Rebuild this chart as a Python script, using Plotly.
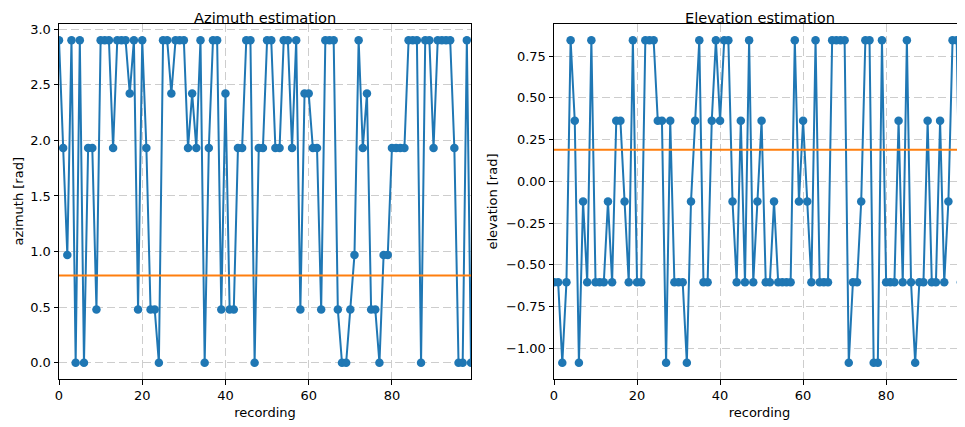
import plotly.graph_objects as go

# ---- data ----
recording = list(range(100))

azimuth = [
    2.90, 1.93, 0.97, 2.90, 0.00, 2.90, 0.00, 1.93, 1.93, 0.48,
    2.90, 2.90, 2.90, 1.93, 2.90, 2.90, 2.90, 2.42, 2.90, 0.48,
    2.90, 1.93, 0.48, 0.48, 0.00, 2.90, 2.90, 2.42, 2.90, 2.90,
    2.90, 1.93, 2.42, 1.93, 2.90, 0.00, 1.93, 2.90, 2.90, 0.48,
    2.42, 0.48, 0.48, 1.93, 1.93, 2.90, 2.90, 0.00, 1.93, 1.93,
    2.90, 2.90, 1.93, 1.93, 2.90, 2.90, 1.93, 2.90, 0.48, 2.42,
    2.42, 1.93, 1.93, 0.48, 2.90, 2.90, 2.90, 0.48, 0.00, 0.00,
    0.48, 0.97, 2.90, 1.93, 2.42, 0.48, 0.48, 0.00, 0.97, 0.97,
    1.93, 1.93, 1.93, 1.93, 2.90, 2.90, 2.90, 0.00, 2.90, 2.90,
    1.93, 2.90, 2.90, 2.90, 2.90, 1.93, 0.00, 0.00, 2.90, 0.00,
]
azimuth_true = 0.785

T, A, B, C, D = 0.846, 0.363, -0.121, -0.604, -1.087
elevation = [
    C, C, D, C, T, A, D, B, C, T,
    C, C, C, B, C, A, A, B, C, T,
    C, C, T, T, T, A, A, D, A, C,
    C, C, D, B, A, T, C, C, A, T,
    A, T, T, B, C, A, C, T, C, B,
    A, C, C, B, C, C, C, C, T, B,
    A, B, C, T, C, C, C, T, T, T,
    T, D, C, C, B, T, T, D, D, T,
    C, C, C, A, C, T, C, D, C, C,
    A, C, C, A, C, B, T, T, C, D,
]
elevation_true = 0.19

az_ticks = [0.0, 0.5, 1.0, 1.5, 2.0, 2.5, 3.0]
el_ticks = [-1.00, -0.75, -0.50, -0.25, 0.00, 0.25, 0.50, 0.75]
x_ticks = [0, 20, 40, 60, 80]

BLUE = "#1f77b4"
ORANGE = "#ff7f0e"
FONT = "DejaVu Sans"
TICK_FS = 13
TITLE_FS = 14.6


def pad_range(vals, frac=0.05):
    lo, hi = min(vals), max(vals)
    d = (hi - lo) * frac
    return [lo - d, hi + d]


fig = go.Figure()

fig.add_trace(go.Scatter(x=recording, y=azimuth, mode="lines+markers",
                         line=dict(color=BLUE, width=2),
                         marker=dict(color=BLUE, size=8.5),
                         xaxis="x", yaxis="y", showlegend=False))
fig.add_trace(go.Scatter(x=recording, y=[azimuth_true] * len(recording), mode="lines",
                         line=dict(color=ORANGE, width=2),
                         xaxis="x", yaxis="y", showlegend=False))
fig.add_trace(go.Scatter(x=recording, y=elevation, mode="lines+markers",
                         line=dict(color=BLUE, width=2),
                         marker=dict(color=BLUE, size=8.5),
                         xaxis="x2", yaxis="y2", showlegend=False))
fig.add_trace(go.Scatter(x=recording, y=[elevation_true] * len(recording), mode="lines",
                         line=dict(color=ORANGE, width=2),
                         xaxis="x2", yaxis="y2", showlegend=False))

# page has an 8px body margin, so the figure is laid out 8px smaller
W, H = 957, 419
dom1 = [51 / W, 463 / W]
dom2 = [546 / W, 1.0]

grid = dict(showgrid=True, gridcolor="#cdcdcd", griddash="8px,4px", gridwidth=1.2)
frame = dict(showline=True, linecolor="black", linewidth=1, mirror=True,
             ticks="outside", ticklen=4.5, tickwidth=1, tickcolor="black",
             zeroline=False, automargin=False, tickfont=dict(size=TICK_FS, color="black"))

common_x = dict(range=[0, len(recording) - 1], tickvals=x_ticks,
                title=dict(text="recording", font=dict(size=TICK_FS, color="black"), standoff=5),
                **grid, **frame)

TOP = 16

title_font = dict(size=TITLE_FS, color="black", family=FONT)
label_font = dict(size=TICK_FS, color="black", family=FONT)

fig.update_layout(
    width=W, height=H,
    margin=dict(l=0, r=0, t=TOP, b=47.5),
    paper_bgcolor="white", plot_bgcolor="white",
    font=dict(family=FONT, size=TICK_FS, color="black"),
    xaxis=dict(domain=dom1, anchor="y", **common_x),
    yaxis=dict(domain=[0, 1], anchor="x", range=pad_range(azimuth), tickvals=az_ticks,
               tickformat=".1f", **grid, **frame),
    xaxis2=dict(domain=dom2, anchor="y2", **common_x),
    yaxis2=dict(domain=[0, 1], anchor="x2", range=pad_range(elevation), tickvals=el_ticks,
                tickformat=".2f", **grid, **frame),
    annotations=[
        dict(text="Azimuth estimation", x=(dom1[0] + dom1[1]) / 2, y=1, xref="paper", yref="paper",
             xanchor="center", yanchor="top", yshift=TOP, borderpad=0, showarrow=False,
             font=title_font),
        dict(text="Elevation estimation", x=(dom2[0] + dom2[1]) / 2, y=1, xref="paper", yref="paper",
             xanchor="center", yanchor="top", yshift=TOP, borderpad=0, showarrow=False,
             font=title_font),
        dict(text="azimuth [rad]", x=10 / W, y=0.5, xref="paper", yref="paper",
             xanchor="center", yanchor="middle", textangle=-90, showarrow=False,
             font=label_font),
        dict(text="elevation [rad]", x=484 / W, y=0.5, xref="paper", yref="paper",
             xanchor="center", yanchor="middle", textangle=-90, showarrow=False,
             font=label_font),
    ],
)

fig.write_html("out.html")
